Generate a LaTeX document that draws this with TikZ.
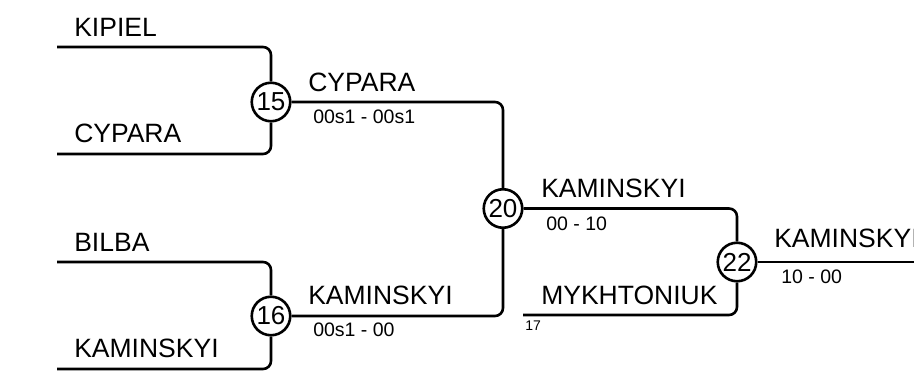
\documentclass[tikz,border=0pt]{standalone}
\usepackage{fontspec}
\setmainfont{Liberation Sans}
\begin{document}
\begin{tikzpicture}[x=1pt,y=-1pt,line width=2.6pt,
  match/.style={circle,draw,inner sep=0pt,minimum size=38.5pt,font=\fontsize{26}{26}\selectfont},
  player/.style={anchor=base west,inner sep=0pt,font=\fontsize{26.5}{30}\selectfont},
  score/.style={anchor=north west,inner sep=0pt,font=\fontsize{19.5}{20}\selectfont},
  bracket/.style={rounded corners=8pt}]
\def\start{57}
\def\namex{73}
\useasboundingbox (0,0) rectangle (914,371);

% Matches
\node[match] (m15) at (271,102) {15};
\node[match] (m16) at (271,316) {16};
\node[match] (m20) at (503,208.5) {20};
\node[match] (m22) at (737,262) {22};

% Entries
\coordinate (kipiel) at (\start,47);
\coordinate (cypara) at (\start,154);
\coordinate (bilba) at (\start,262);
\coordinate (kaminskyi) at (\start,369);
\coordinate (mykhtoniuk) at (523,315);
\coordinate (final) at (914,262);

\draw[bracket] (kipiel) -| (m15);
\draw[bracket] (cypara) -| (m15);
\draw[bracket] (bilba) -| (m16);
\draw[bracket] (kaminskyi) -| (m16);
\draw[bracket] (m15) -| (m20);
\draw[bracket] (m16) -| (m20);
\draw[bracket] (m20) -| (m22);
\draw[bracket] (mykhtoniuk) -| (m22);
\draw (m22) -- (final);

% Names and scores
\node[player] (kipiel-name) at (\namex,37) {KIPIEL};
\node[player] (cypara-name) at (\namex,143) {CYPARA};
\node[player] (bilba-name) at (\namex,252) {BILBA};
\node[player] (kaminskyi-name) at (\namex,358) {KAMINSKYI};

\node[player] (w15-name) at (307,92) {CYPARA};
\node[score] (w15-score) at (312,109) {00s1 - 00s1};
\node[player] (w16-name) at (307,305) {KAMINSKYI};
\node[score] (w16-score) at (312,322) {00s1 - 00};

\node[player] (w20-name) at (540,198) {KAMINSKYI};
\node[score] (w20-score) at (545,216) {00 - 10};
\node[player] (mykhtoniuk-name) at (540,305) {MYKHTONIUK};
\node[anchor=north west,inner sep=0pt,font=\fontsize{14}{15}\selectfont] (seed) at (524,320) {17};

\node[player] (w22-name) at (773,248) {KAMINSKYI};
\node[score] (w22-score) at (780,269) {10 - 00};
\end{tikzpicture}
\end{document}
